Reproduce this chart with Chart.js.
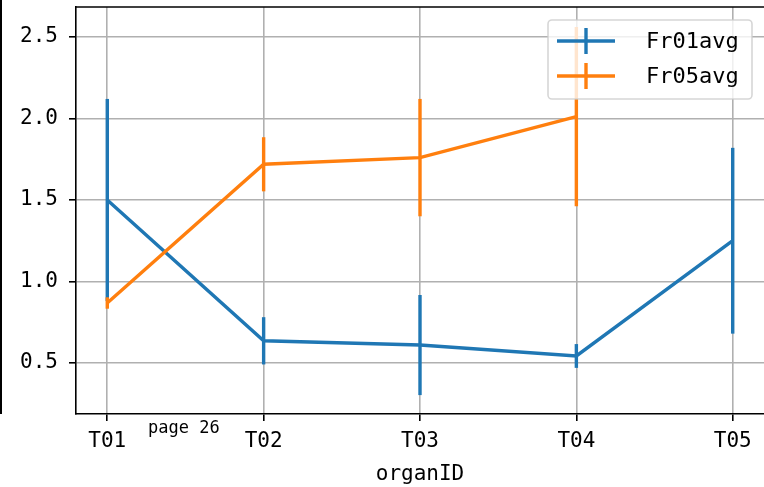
<!DOCTYPE html>
<html><head><meta charset="utf-8">
<script src="https://cdn.jsdelivr.net/npm/chart.js@4"></script>
<style>
html,body{margin:0;padding:0;background:#fff;}
#wrap{position:relative;width:764px;height:487px;overflow:hidden;}
#note{position:absolute;left:148px;top:417px;font:17px "DejaVu Sans Mono",monospace;color:#000;white-space:pre;}
#edge{position:absolute;left:0;top:0;width:2px;height:414px;background:#000;}
</style></head><body>
<div id="wrap"><canvas id="c" width="764" height="487"></canvas><div id="edge"></div><div id="note">page 26</div></div>
<script>
const categories = ["T01","T02","T03","T04","T05"];
const seriesNames = ["Fr01avg","Fr05avg"];
const fr01Values = [1.50, 0.636, 0.61, 0.543, 1.25];
const fr01Errors = [0.62, 0.145, 0.307, 0.073, 0.57];
const fr05Values = [0.868, 1.719, 1.76, 2.011, null];
const fr05Errors = [0.035, 0.166, 0.36, 0.55, null];
const yTicks = [0.5, 1.0, 1.5, 2.0, 2.5];
const yTickLabels = ["0.5", "1.0", "1.5", "2.0", "2.5"];
const xTitle = "organID";

const FONT = '"DejaVu Sans Mono", monospace';
const colors = ['#1f77b4', '#ff7f0e'];
const errs = [fr01Errors, fr05Errors];

function pts(vals){ return vals.map((v,i)=>({x:i, y:v})); }

const errorBarPlugin = {
  id: 'errbars',
  afterDatasetDraw(chart, args) {
    const i = args.index;
    const ds = chart.data.datasets[i];
    const e = errs[i];
    const xs = chart.scales.x, ys = chart.scales.y;
    const ctx = chart.ctx, a = chart.chartArea;
    ctx.save();
    ctx.beginPath(); ctx.rect(a.left, a.top, a.right - a.left, a.bottom - a.top); ctx.clip();
    ctx.strokeStyle = ds.borderColor; ctx.lineWidth = 3.4; ctx.lineCap = 'butt';
    ds.data.forEach((p, k) => {
      if (p.y == null || e[k] == null) return;
      const px = xs.getPixelForValue(p.x);
      ctx.beginPath();
      ctx.moveTo(px, ys.getPixelForValue(p.y - e[k]));
      ctx.lineTo(px, ys.getPixelForValue(p.y + e[k]));
      ctx.stroke();
    });
    ctx.restore();
  },
  afterDraw(chart) {
    const ctx = chart.ctx, a = chart.chartArea;
    ctx.save();
    ctx.strokeStyle = '#000'; ctx.lineWidth = 1.6;
    ctx.beginPath(); ctx.moveTo(a.left - 0.8, a.top); ctx.lineTo(a.right, a.top); ctx.stroke();
    const bx = 548, by = 20, bw = 204, bh = 79, r = 4;
    ctx.beginPath();
    ctx.moveTo(bx + r, by); ctx.lineTo(bx + bw - r, by); ctx.arcTo(bx + bw, by, bx + bw, by + r, r);
    ctx.lineTo(bx + bw, by + bh - r); ctx.arcTo(bx + bw, by + bh, bx + bw - r, by + bh, r);
    ctx.lineTo(bx + r, by + bh); ctx.arcTo(bx, by + bh, bx, by + bh - r, r);
    ctx.lineTo(bx, by + r); ctx.arcTo(bx, by, bx + r, by, r); ctx.closePath();
    ctx.fillStyle = 'rgba(255,255,255,0.8)'; ctx.fill();
    ctx.strokeStyle = 'rgba(204,204,204,0.8)'; ctx.lineWidth = 1.6; ctx.stroke();
    const rows = [41, 76];
    chart.data.datasets.forEach((ds, i) => {
      const y = rows[i];
      ctx.strokeStyle = ds.borderColor; ctx.lineWidth = 3.4;
      ctx.beginPath(); ctx.moveTo(557, y); ctx.lineTo(615, y); ctx.stroke();
      ctx.beginPath(); ctx.moveTo(586, y - 13); ctx.lineTo(586, y + 13); ctx.stroke();
      ctx.fillStyle = '#000'; ctx.font = '22px ' + FONT; ctx.textBaseline = 'middle'; ctx.textAlign = 'left';
      ctx.fillText(ds.label, 646, y + 1);
    });
    ctx.restore();
  }
};

new Chart(document.getElementById('c'), {
  type: 'line',
  data: {
    datasets: [
      { label: seriesNames[0], data: pts(fr01Values), borderColor: colors[0], backgroundColor: colors[0], borderWidth: 3.4, pointRadius: 0, tension: 0, order: 2 },
      { label: seriesNames[1], data: pts(fr05Values), borderColor: colors[1], backgroundColor: colors[1], borderWidth: 3.4, pointRadius: 0, tension: 0, order: 1, spanGaps: false }
    ]
  },
  options: {
    responsive: false, animation: false, devicePixelRatio: 1,
    layout: { padding: { top: 7, right: 0, left: 0, bottom: 0 } },
    plugins: { legend: { display: false }, tooltip: { enabled: false } },
    scales: {
      x: {
        type: 'linear', min: -0.2, max: 4.2,
        afterBuildTicks: s => { s.ticks = categories.map((c, i) => ({ value: i })); },
        afterFit: s => { s.height = 73; s.paddingLeft = 0; s.paddingRight = 0; },
        ticks: { callback: (v, i) => categories[i], color: '#000', font: { family: FONT, size: 21 }, padding: 8, autoSkip: false, maxRotation: 0 },
        grid: { color: '#b0b0b0', lineWidth: 1.6, tickColor: '#000', tickLength: 7, tickWidth: 1.6 },
        border: { display: true, color: '#000', width: 1.6 },
        title: { display: true, text: xTitle, color: '#000', font: { family: FONT, size: 21 }, padding: { top: 4, bottom: 0 } }
      },
      y: {
        type: 'linear', min: 0.187, max: 2.684,
        afterBuildTicks: s => { s.ticks = yTicks.map(v => ({ value: v })); },
        afterFit: s => { s.width = 76; s.paddingTop = 0; s.paddingBottom = 0; },
        ticks: { callback: (v, i) => yTickLabels[i], color: '#000', font: { family: FONT, size: 21 }, padding: 11 },
        grid: { color: '#b0b0b0', lineWidth: 1.6, tickColor: '#000', tickLength: 7, tickWidth: 1.6 },
        border: { display: true, color: '#000', width: 1.6 }
      }
    }
  },
  plugins: [errorBarPlugin]
});
</script>
</body></html>
